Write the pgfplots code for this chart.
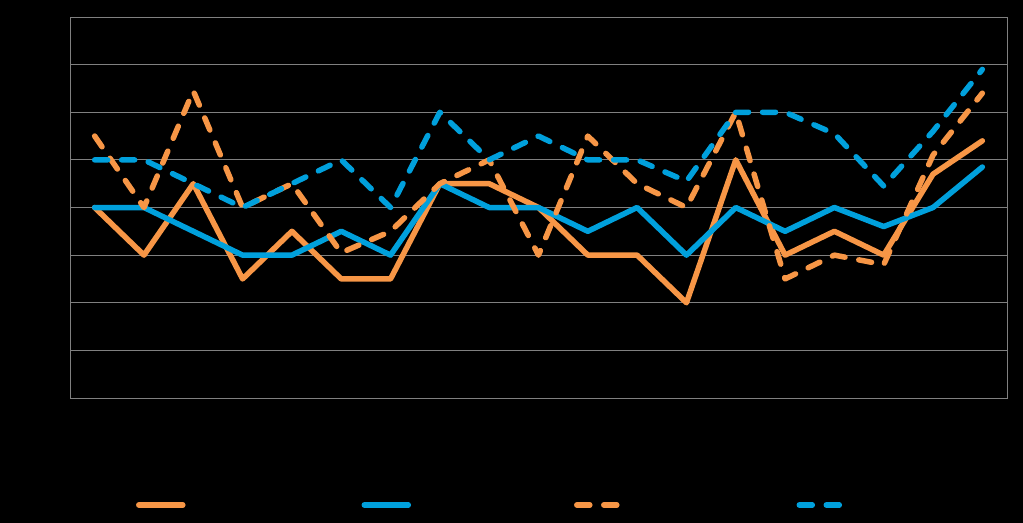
\documentclass[border=0pt]{standalone}
\usepackage{pgfplots}
\pgfplotsset{compat=1.18}
\definecolor{myorange}{RGB}{247,150,70}
\definecolor{myblue}{RGB}{0,160,220}
\definecolor{mygray}{RGB}{128,128,128}
\pgfplotstableread{
x a b c d
0 4.0 4.0 5.5 5.0
1 3.0 4.0 4.0 5.0
2 4.5 3.5 6.45 4.5
3 2.5 3.0 4.0 4.0
4 3.5 3.0 4.5 4.5
5 2.5 3.5 3.05 5.0
6 2.5 3.0 3.5 4.0
7 4.5 4.5 4.5 6.0
8 4.5 4.0 5.0 5.0
9 4.0 4.0 3.0 5.5
10 3.0 3.5 5.5 5.0
11 3.0 4.0 4.5 5.0
12 2.0 3.0 4.0 4.55
13 5.0 4.0 6.0 6.0
14 3.0 3.5 2.5 6.0
15 3.5 4.0 3.0 5.55
16 3.0 3.6 2.8 4.45
17 4.7 4.0 5.1 5.6
18 5.4 4.85 6.4 6.9
}\datatable
\begin{document}
\begin{tikzpicture}
\fill[black] (0,0) rectangle (1023bp,523bp);
\begin{axis}[
  at={(70bp,125bp)}, anchor=south west,
  width=937bp, height=381bp, scale only axis,
  xmin=-0.5, xmax=18.5, ymin=0, ymax=8,
  axis line style={mygray, line width=1bp},
  ytick={0,1,...,8}, xtick=\empty,
  yticklabels={}, 
  major tick length=0pt,
  ymajorgrids, grid style={mygray, line width=1bp},
  clip=false,
  legend style={draw=none, fill=none, inner sep=0pt, outer sep=0pt,
    at={(rel axis cs:0.0705,-0.2808)}, anchor=west,
    legend columns=4,
    nodes={inner sep=0pt, outer sep=0pt},
    /tikz/every odd column/.style={column sep=5bp},
    /tikz/every even column/.style={column sep=0bp}},
  legend image code/.code={\draw[#1] (0bp,0bp) -- (44bp,0bp);},
  every axis plot/.append style={line width=5.5bp, line join=round, line cap=round},
]
\addplot[myorange, no markers] table[x=x,y=a]{\datatable};
\addlegendentry{\makebox[171bp][l]{}}
\addplot[myblue, no markers] table[x=x,y=b]{\datatable};
\addlegendentry{\makebox[158bp][l]{}}
\addplot[myorange, no markers, dash pattern=on 13bp off 14bp] table[x=x,y=c]{\datatable};
\addlegendentry{\makebox[168bp][l]{}}
\addplot[myblue, no markers, dash pattern=on 13bp off 14bp] table[x=x,y=d]{\datatable};
\addlegendentry{\makebox[100bp][l]{}}
\end{axis}
\end{tikzpicture}
\end{document}
